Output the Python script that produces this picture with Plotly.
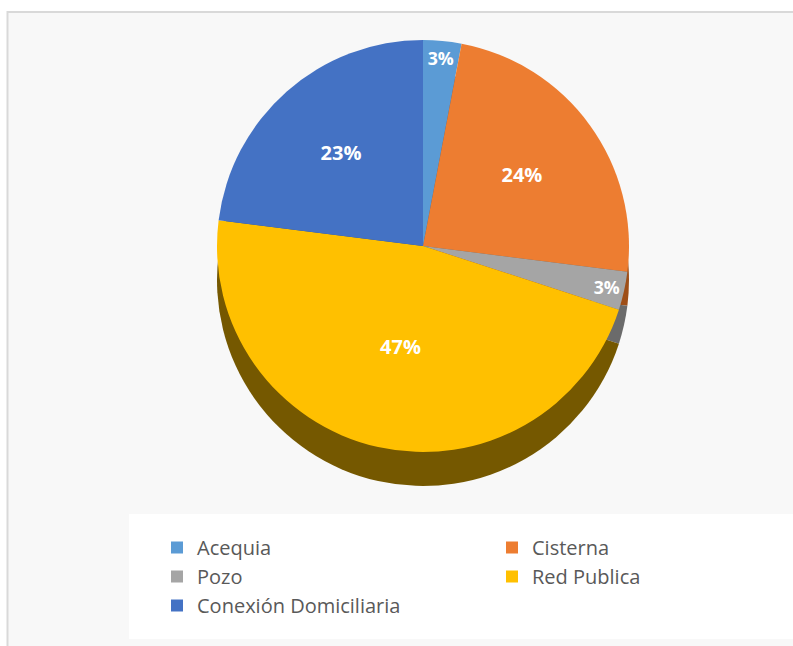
import plotly.graph_objects as go

labels = ["Acequia", "Cisterna", "Pozo", "Red Publica", "Conexión Domiciliaria"]
values = [3, 24, 3, 47, 23]
top_colors = ["#5B9BD5", "#ED7D31", "#A5A5A5", "#FFC000", "#4472C4"]
side_colors = ["#2F6499", "#9E4E17", "#6B6B6B", "#755800", "#2A4A85"]

W, H = 793, 646
cx, cy, d, depth = 423, 246, 412, 34

def xdom(c, size):
    return [(c - size / 2) / W, (c + size / 2) / W]

def ydom(c, size):
    return [1 - (c + size / 2) / H, 1 - (c - size / 2) / H]

fig = go.Figure()

# side (depth) of the pie, drawn as a darker copy shifted down
fig.add_trace(go.Pie(
    labels=labels, values=values, sort=False, direction="clockwise",
    marker=dict(colors=side_colors, line=dict(width=0)),
    textinfo="none", hoverinfo="skip", showlegend=False,
    domain=dict(x=xdom(cx, d), y=ydom(cy + depth, d)),
))

# top face
fig.add_trace(go.Pie(
    labels=labels, values=values, sort=False, direction="clockwise",
    marker=dict(colors=top_colors, line=dict(width=0)),
    texttemplate="%{percent:.0%}", textposition="inside",
    insidetextorientation="horizontal",
    textfont=dict(family="Open Sans", size=20, color="white", weight="bold"),
    domain=dict(x=xdom(cx, d), y=ydom(cy, d)),
))

fig.update_layout(
    width=W, height=H,
    margin=dict(l=0, r=0, t=0, b=0, autoexpand=False),
    paper_bgcolor="white",
    plot_bgcolor="white",
    shapes=[dict(
        type="rect", xref="paper", yref="paper", layer="below",
        x0=7.5 / W, x1=1.05, y0=-0.05, y1=1 - 12 / H,
        fillcolor="#F8F8F8", line=dict(color="#D9D9D9", width=2),
    )],
    legend=dict(
        orientation="h", x=129 / W, xanchor="left", y=1 - 514 / H, yanchor="top",
        bgcolor="white", bordercolor="white", borderwidth=14, indentation=14,
        entrywidth=276, entrywidthmode="pixels",
        font=dict(family="Open Sans", size=20, color="#595959"),
        itemclick=False,
    ),
)

fig.write_html(
    "out.html",
    config={"displayModeBar": False},
    post_script="document.body.style.margin='0';document.body.style.overflow='hidden';",
)
